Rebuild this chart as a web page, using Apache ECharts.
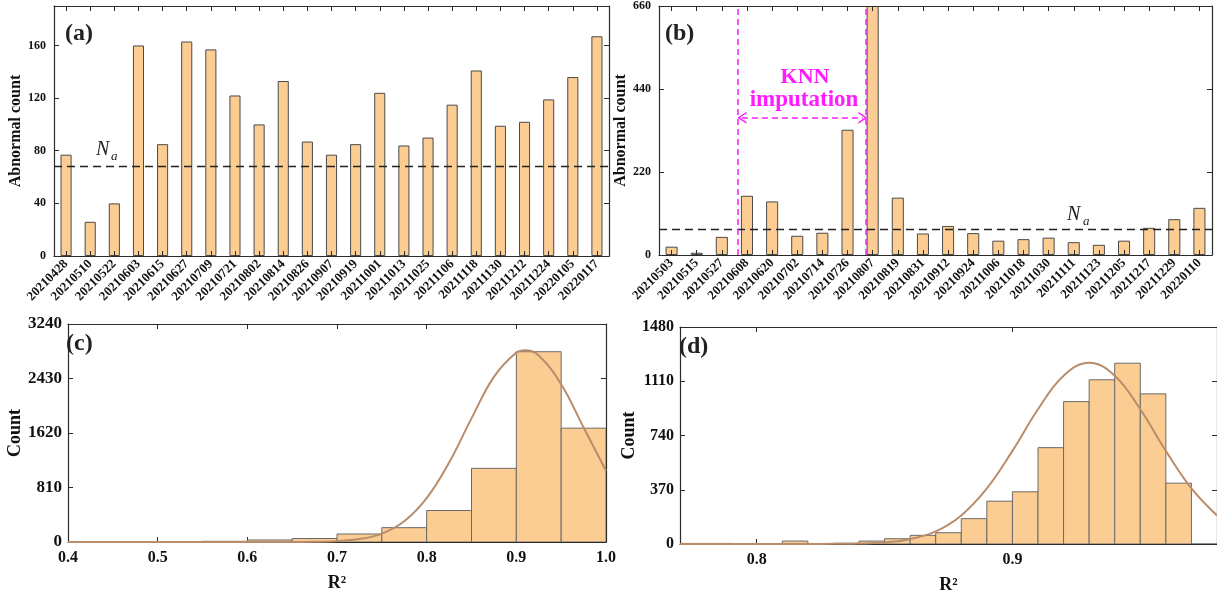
<!DOCTYPE html>
<html>
<head>
<meta charset="utf-8">
<script src="https://cdn.jsdelivr.net/npm/echarts@6/dist/echarts.min.js"></script>
<style>
  html, body { margin: 0; padding: 0; background: #fff; }
  #main { width: 1217px; height: 603px; }
</style>
</head>
<body>
<div id="main"></div>
<script>
// panel (a) abnormal counts per date
const datesA = ['20210428','20210510','20210522','20210603','20210615','20210627','20210709','20210721','20210802','20210814','20210826','20210907','20210919','20211001','20211013','20211025','20211106','20211118','20211130','20211212','20211224','20220105','20220117'];
const countsA = [77, 26, 40, 160, 85, 163, 157, 122, 100, 133, 87, 77, 85, 124, 84, 90, 115, 141, 99, 102, 119, 136, 167];
const naA = 68;

// panel (b)
const datesB = ['20210503','20210515','20210527','20210608','20210620','20210702','20210714','20210726','20210807','20210819','20210831','20210912','20210924','20211006','20211018','20211030','20211111','20211123','20211205','20211217','20211229','20220110'];
const countsB = [22, 6, 48, 157, 142, 51, 59, 332, 660, 152, 57, 77, 58, 38, 42, 46, 34, 27, 38, 72, 95, 125];
const naB = 69;

// panel (c) R2 histogram, bins of 0.05
const binStartC = [0.40, 0.45, 0.50, 0.55, 0.60, 0.65, 0.70, 0.75, 0.80, 0.85, 0.90, 0.95];
const binEndC   = [0.45, 0.50, 0.55, 0.60, 0.65, 0.70, 0.75, 0.80, 0.85, 0.90, 0.95, 1.00];
const countsC   = [3, 3, 4, 10, 30, 52, 119, 213, 468, 1095, 2828, 1692];
const fitXC = [0.40, 0.60, 0.625, 0.65, 0.675, 0.70, 0.725, 0.75, 0.775, 0.80, 0.825, 0.85, 0.875, 0.90, 0.91, 0.925, 0.95, 0.975, 1.00];
const fitYC = [0, 0, 0, 1, 3, 13, 44, 125, 308, 651, 1180, 1837, 2454, 2815, 2850, 2773, 2345, 1702, 1060];

// panel (d) R2 histogram, bins of 0.01
const binStartD = [0.77, 0.78, 0.79, 0.80, 0.81, 0.82, 0.83, 0.84, 0.85, 0.86, 0.87, 0.88, 0.89, 0.90, 0.91, 0.92, 0.93, 0.94, 0.95, 0.96, 0.97];
const binEndD   = [0.78, 0.79, 0.80, 0.81, 0.82, 0.83, 0.84, 0.85, 0.86, 0.87, 0.88, 0.89, 0.90, 0.91, 0.92, 0.93, 0.94, 0.95, 0.96, 0.97, 0.98];
const countsD   = [4, 4, 0, 0, 20, 0, 5, 20, 36, 59, 77, 173, 292, 356, 657, 971, 1120, 1233, 1024, 415, 0];
const fitXD = [0.77, 0.80, 0.82, 0.83, 0.84, 0.85, 0.86, 0.87, 0.88, 0.89, 0.90, 0.91, 0.92, 0.93, 0.94, 0.95, 0.96, 0.97, 0.98];
const fitYD = [0, 0, 0, 1, 3, 11, 33, 86, 195, 379, 635, 919, 1148, 1236, 1148, 919, 635, 379, 195];

const serif = 'Liberation Serif';
const ink = '#2b2b2b';
const barFill = '#fccd93';
const fitColor = '#b98d6b';
const magenta = '#ff1aff';

var myChart = echarts.init(document.getElementById('main'));

function axisBase(extra) {
  return Object.assign({
    axisLine: { show: true, onZero: false, lineStyle: { color: ink, width: 1.2 } },
    axisTick: { show: true, inside: true, length: 5, lineStyle: { color: ink } },
    splitLine: { show: false },
    axisLabel: { color: '#111', fontFamily: serif, fontWeight: 'bold', fontSize: 12, formatter: v => String(v) }
  }, extra);
}

function mirror(ax, pos) {
  let m = JSON.parse(JSON.stringify(ax));
  m.position = pos;
  m.name = '';
  m.axisLabel = Object.assign({}, m.axisLabel, { show: false });
  return m;
}

function histItem(params, api) {
  const top = api.coord([api.value(0), api.value(2)]);
  const base = api.coord([api.value(1), 0]);
  return {
    type: 'rect',
    shape: { x: top[0], y: top[1], width: base[0] - top[0], height: base[1] - top[1] },
    style: { fill: barFill, stroke: '#6a6a6a', lineWidth: 1 }
  };
}

const plain = v => String(v);

// axes
const xA = axisBase({ gridIndex: 0, type: 'category', data: datesA, position: 'bottom', z: 5,
  axisTick: { show: true, inside: true, length: 5, alignWithLabel: true, lineStyle: { color: ink } },
  axisLabel: { color: '#111', fontFamily: serif, fontWeight: 'bold', fontSize: 13, rotate: 45, margin: 6, interval: 0 } });
const yA = axisBase({ gridIndex: 0, type: 'value', min: 0, max: 190, position: 'left',
  name: 'Abnormal count', nameLocation: 'middle', nameGap: 27,
  nameTextStyle: { fontFamily: serif, fontWeight: 'bold', fontSize: 16, color: '#111' },
  axisLabel: { color: '#111', fontFamily: serif, fontWeight: 'bold', fontSize: 12, customValues: [0, 40, 80, 120, 160], formatter: plain },
  axisTick: { show: true, inside: true, length: 5, lineStyle: { color: ink }, customValues: [0, 40, 80, 120, 160] } });

const xB = axisBase({ gridIndex: 1, type: 'category', data: datesB, position: 'bottom', z: 5,
  axisTick: { show: true, inside: true, length: 5, alignWithLabel: true, lineStyle: { color: ink } },
  axisLabel: { color: '#111', fontFamily: serif, fontWeight: 'bold', fontSize: 13, rotate: 45, margin: 6, interval: 0 } });
const yB = axisBase({ gridIndex: 1, type: 'value', min: 0, max: 660, interval: 220, position: 'left',
  name: 'Abnormal count', nameLocation: 'middle', nameGap: 27,
  nameTextStyle: { fontFamily: serif, fontWeight: 'bold', fontSize: 16, color: '#111' } });

const xC = axisBase({ gridIndex: 2, type: 'value', min: 0.4, max: 1.0, interval: 0.1, position: 'bottom',
  name: 'R²', nameLocation: 'middle', nameGap: 32,
  nameTextStyle: { fontFamily: serif, fontWeight: 'bold', fontSize: 18, color: '#111' },
  axisLabel: { color: '#111', fontFamily: serif, fontWeight: 'bold', fontSize: 16, margin: 8,
    formatter: v => v.toFixed(1) } });
const yC = axisBase({ gridIndex: 2, type: 'value', min: 0, max: 3240, interval: 810, position: 'left',
  name: 'Count', nameLocation: 'middle', nameGap: 36,
  nameTextStyle: { fontFamily: serif, fontWeight: 'bold', fontSize: 18, color: '#111' },
  axisLabel: { color: '#111', fontFamily: serif, fontWeight: 'bold', fontSize: 17, margin: 6, formatter: plain } });

const xD = axisBase({ gridIndex: 3, type: 'value', min: 0.77, max: 0.98, position: 'bottom',
  name: 'R²', nameLocation: 'middle', nameGap: 32,
  nameTextStyle: { fontFamily: serif, fontWeight: 'bold', fontSize: 18, color: '#111' },
  axisLabel: { color: '#111', fontFamily: serif, fontWeight: 'bold', fontSize: 16, margin: 8,
    customValues: [0.8, 0.9], formatter: v => v.toFixed(1) },
  axisTick: { show: true, inside: true, length: 5, lineStyle: { color: ink }, customValues: [0.8, 0.9] } });
const yD = axisBase({ gridIndex: 3, type: 'value', min: 0, max: 1480, interval: 370, position: 'left',
  name: 'Count', nameLocation: 'middle', nameGap: 41,
  nameTextStyle: { fontFamily: serif, fontWeight: 'bold', fontSize: 18, color: '#111' },
  axisLabel: { color: '#111', fontFamily: serif, fontWeight: 'bold', fontSize: 16, margin: 6, formatter: plain } });

// hidden band-position axis for the KNN annotation in (b)
const xBpos = { gridIndex: 1, type: 'value', min: 0, max: 22, show: false };

const xAxes = [xA, xB, xC, xD, mirror(xA, 'top'), mirror(xB, 'top'), mirror(xC, 'top'), mirror(xD, 'top'), xBpos];
const yAxes = [yA, yB, yC, yD, mirror(yA, 'right'), mirror(yB, 'right'), mirror(yC, 'right'), mirror(yD, 'right')];

function txt(x, y, text, size, opts) {
  return { type: 'text', x: x, y: y, z: 100,
    style: Object.assign({ text: text, fill: '#222', fontFamily: serif, fontWeight: 'bold', fontSize: size,
      align: 'left', verticalAlign: 'middle' }, opts || {}) };
}

const option = {
  animation: false,
  backgroundColor: '#fff',
  grid: [
    { left: 54, top: 6, width: 555, height: 250 },
    { left: 659, top: 6, width: 553, height: 249 },
    { left: 68, top: 324, width: 538, height: 218 },
    { left: 680, top: 327, width: 537, height: 217 }
  ],
  xAxis: xAxes,
  yAxis: yAxes,
  graphic: [
    txt(65, 34, '(a)', 24),
    txt(665, 34, '(b)', 24),
    txt(66, 344, '(c)', 24),
    txt(679, 347, '(d)', 24),
    txt(96, 150, 'N', 20, { fontStyle: 'italic', fontWeight: 'normal' }),
    txt(111, 157, 'a', 13, { fontStyle: 'italic', fontWeight: 'normal' }),
    txt(1067, 215, 'N', 20, { fontStyle: 'italic', fontWeight: 'normal' }),
    txt(1083, 222, 'a', 13, { fontStyle: 'italic', fontWeight: 'normal' }),
    txt(805, 77, 'KNN', 22, { fill: magenta, align: 'center' }),
    txt(804, 100, 'imputation', 23, { fill: magenta, align: 'center' })
  ],
  series: [
    {
      type: 'bar', xAxisIndex: 0, yAxisIndex: 0, data: countsA, barWidth: '46%',
      itemStyle: { color: barFill, borderColor: '#4a4a4a', borderWidth: 1 },
      markLine: { silent: true, symbol: 'none', label: { show: false },
        lineStyle: { color: '#222', type: [8, 5], width: 1.3 }, data: [{ yAxis: naA }] }
    },
    {
      type: 'bar', xAxisIndex: 1, yAxisIndex: 1, data: countsB, barWidth: '48%',
      itemStyle: { color: barFill, borderColor: '#4a4a4a', borderWidth: 1 },
      markLine: { silent: true, symbol: 'none', label: { show: false },
        lineStyle: { color: '#222', type: [8, 5], width: 1.3 }, data: [{ yAxis: naB }] }
    },
    {
      type: 'line', xAxisIndex: 8, yAxisIndex: 1, data: [], z: 6,
      markLine: { silent: true, symbol: 'none', label: { show: false }, animation: false,
        lineStyle: { color: magenta, type: [6, 4], width: 1.5 },
        data: [
          { xAxis: 3.13 },
          { xAxis: 8.22 },
          [
            { coord: [3.3, 364], symbol: 'path://M0,10 L5,0 L10,10 L8.6,10 L5,2.8 L1.4,10 Z', symbolSize: [12, 9] },
            { coord: [8.11, 364], symbol: 'path://M0,10 L5,0 L10,10 L8.6,10 L5,2.8 L1.4,10 Z', symbolSize: [12, 9] }
          ]
        ] }
    },
    {
      type: 'custom', xAxisIndex: 2, yAxisIndex: 2, renderItem: histItem, clip: true,
      data: binStartC.map((s, i) => [s, binEndC[i], countsC[i]])
    },
    {
      type: 'line', xAxisIndex: 2, yAxisIndex: 2, smooth: 0.4, showSymbol: false, z: 5,
      data: fitXC.map((x, i) => [x, fitYC[i]]),
      lineStyle: { color: fitColor, width: 2 }
    },
    {
      type: 'custom', xAxisIndex: 3, yAxisIndex: 3, renderItem: histItem, clip: true,
      data: binStartD.map((s, i) => [s, binEndD[i], countsD[i]])
    },
    {
      type: 'line', xAxisIndex: 3, yAxisIndex: 3, smooth: 0.4, showSymbol: false, z: 5, clip: true,
      data: fitXD.map((x, i) => [x, fitYD[i]]),
      lineStyle: { color: fitColor, width: 2 }
    }
  ]
};

myChart.setOption(option);
</script>
</body>
</html>
